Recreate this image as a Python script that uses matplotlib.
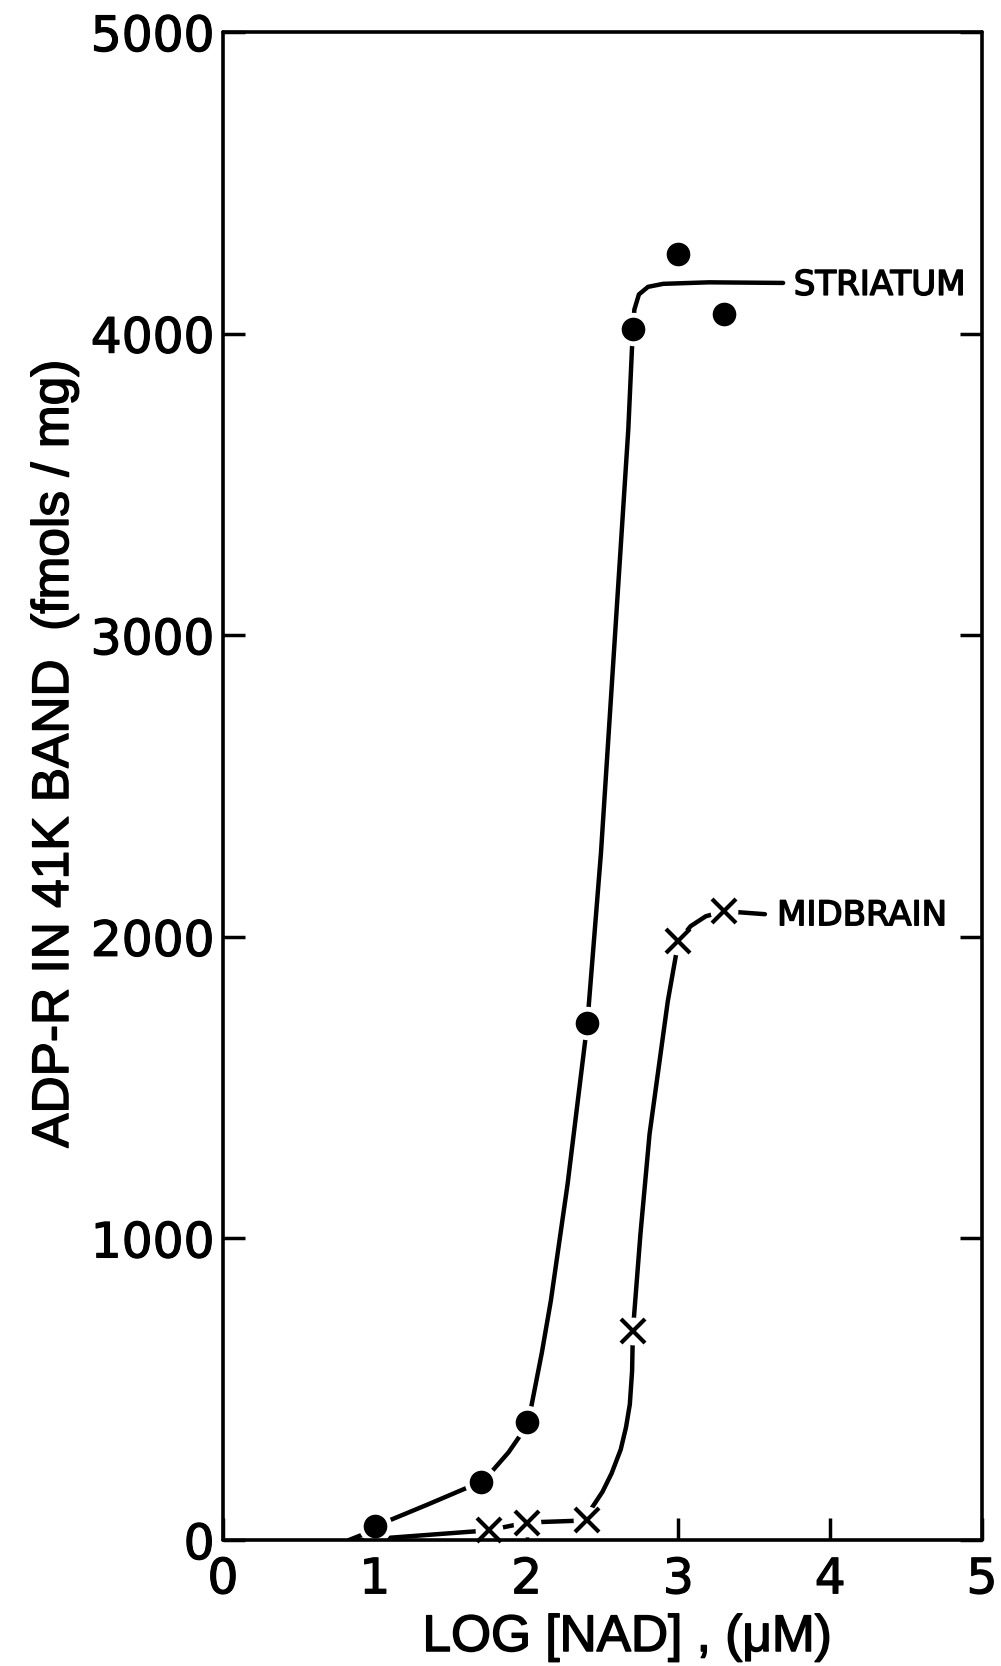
import matplotlib
matplotlib.use("Agg")
import matplotlib.pyplot as plt
import matplotlib.patheffects as pe

# ---- data ----
striatum_x = [1.0, 1.7, 2.0, 2.4, 2.7, 3.0, 3.3]
striatum_y = [45, 193, 390, 1713, 4015, 4265, 4065]

midbrain_x = [1.75, 2.0, 2.4, 2.7, 3.0, 3.3]
midbrain_y = [32, 58, 65, 692, 1985, 2085]

# hand-drawn fitted curves (vertices)
striatum_curve_x = [0.83, 0.92, 1.0, 1.35, 1.7, 1.76, 1.88, 1.95, 2.0, 2.03, 2.1,
                    2.16, 2.27, 2.4, 2.49, 2.58, 2.67, 2.7, 2.71, 2.74, 2.8, 2.9,
                    3.2, 3.69]
striatum_curve_y = [0, 18, 45, 118, 193, 221, 290, 341, 390, 440, 620,
                    794, 1180, 1713, 2279, 2981, 3683, 4015, 4080, 4130, 4155, 4165,
                    4170, 4168]

midbrain_curve_x = [0.9, 1.75, 2.0, 2.4, 2.42, 2.5, 2.56, 2.62, 2.655, 2.68, 2.695,
                    2.70, 2.75, 2.81, 2.93, 3.0, 3.08, 3.18, 3.3, 3.57]
midbrain_curve_y = [0, 32, 58, 65, 99, 160, 221, 300, 374, 450, 560,
                    692, 1015, 1346, 1786, 1985, 2035, 2068, 2085, 2075]

x_ticks = [0, 1, 2, 3, 4, 5]
y_ticks = [0, 1000, 2000, 3000, 4000, 5000]
series_labels = ["STRIATUM", "MIDBRAIN"]
label_pos_x = [3.76, 3.65]
label_pos_y = [4160, 2070]

thick = [pe.withStroke(linewidth=1.1, foreground="black")]

fig = plt.figure(figsize=(10.01, 16.66), dpi=100)
ax = fig.add_axes([223 / 1001, 126 / 1666, 759 / 1001, 1508 / 1666])

lw = 3.2
# curves
ax.plot(striatum_curve_x, striatum_curve_y, color="black", lw=lw,
        solid_capstyle="round", solid_joinstyle="round", zorder=2)
ax.plot(midbrain_curve_x, midbrain_curve_y, color="black", lw=lw,
        solid_capstyle="round", solid_joinstyle="round", zorder=2)

# white halos to make gaps around the symbols
ax.plot(striatum_x, striatum_y, "o", ms=24, color="white", mec="none", zorder=2.2)
ax.plot(midbrain_x, midbrain_y, "o", ms=20, color="white", mec="none", zorder=2.2)

# symbols
ax.plot(striatum_x, striatum_y, "o", ms=16, color="black", mec="black", zorder=4,
        clip_on=False)
ax.plot(midbrain_x, midbrain_y, "x", ms=17, color="black", mew=3.0, zorder=4,
        clip_on=False)

# curve labels
for lab, lx, ly in zip(series_labels, label_pos_x, label_pos_y):
    ax.text(lx, ly, lab, fontsize=24.5, family="DejaVu Sans", ha="left",
            va="center", color="black", path_effects=thick)

ax.set_xlim(0, 5)
ax.set_ylim(0, 5000)
ax.set_xticks(x_ticks)
ax.set_yticks(y_ticks)
ax.set_xticklabels([str(t) for t in x_ticks])
ax.set_yticklabels([str(t) for t in y_ticks])

for s in ax.spines.values():
    s.set_linewidth(2.6)
    s.set_capstyle("round")

ax.tick_params(axis="both", direction="in", length=16, width=2.5,
               labelsize=35, colors="black")
ax.tick_params(axis="y", left=True, right=True, pad=6)
ax.tick_params(axis="x", bottom=True, top=False, pad=11)
for t in ax.get_xticklabels() + ax.get_yticklabels():
    t.set_family("DejaVu Sans")
    t.set_path_effects([pe.withStroke(linewidth=0.9, foreground="black")])

# axis labels
fig.text(627 / 1001, 15 / 1666, "LOG [NAD] , (\u03bcM)", fontsize=37,
         family="Liberation Sans", ha="center", va="baseline",
         path_effects=thick)
fig.text(68 / 1001, 1 - 754 / 1666, "ADP-R IN 41K BAND  (fmols / mg)",
         fontsize=37, family="Liberation Sans", rotation=90,
         rotation_mode="anchor", ha="center", va="baseline",
         path_effects=thick)

fig.savefig("out.png", dpi=100, facecolor="white")
